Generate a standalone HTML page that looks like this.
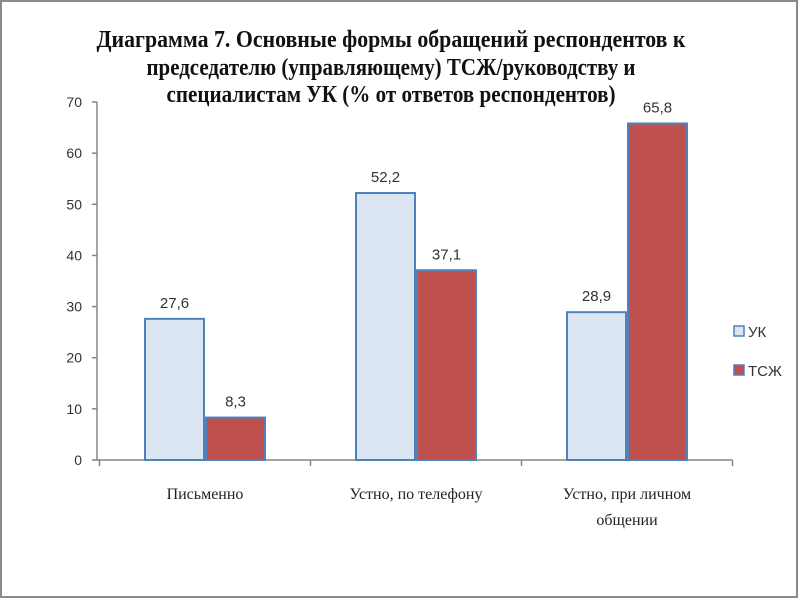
<!DOCTYPE html>
<html><head><meta charset="utf-8"><style>
body{margin:0;background:#fff}
svg{display:block}
</style></head><body>
<svg width="800" height="600" viewBox="0 0 800 600" xmlns="http://www.w3.org/2000/svg">
<rect x="1" y="1" width="796" height="596" fill="#fff" stroke="#8a8a8a" stroke-width="2"/>
<g font-family="Liberation Serif, serif" font-weight="bold" font-size="24" text-anchor="middle" fill="#111">
<text x="391" y="47" textLength="589" lengthAdjust="spacingAndGlyphs">Диаграмма 7. Основные формы обращений респондентов к</text>
<text x="391" y="75" textLength="489" lengthAdjust="spacingAndGlyphs">председателю (управляющему) ТСЖ/руководству и</text>
<text x="391" y="102" textLength="449" lengthAdjust="spacingAndGlyphs">специалистам УК (% от ответов респондентов)</text>
</g>
<g id="plot"></g>
<g font-family="Liberation Sans, sans-serif" font-size="15" fill="#333">
<rect x="734" y="326" width="10" height="10" fill="#dce6f2" stroke="#4f81bd" stroke-width="1.5"/>
<text x="748" y="337">УК</text>
<rect x="734" y="365" width="10" height="10" fill="#c0504d" stroke="#4f81bd" stroke-width="1.5"/>
<text x="748" y="376">ТСЖ</text>
</g>
</svg>
<script>
const categories=[["Письменно"],["Устно, по телефону"],["Устно, при личном","общении"]];
const ukValues=[27.6,52.2,28.9];
const tszhValues=[8.3,37.1,65.8];
const yTicks=[0,10,20,30,40,50,60,70];
const NS="http://www.w3.org/2000/svg";
const plot=document.getElementById('plot');
const x0=99.5,x1=732.5,yBase=460,yTop=102,yMax=70;
const yScale=v=>yBase-(v/yMax)*(yBase-yTop);
const catW=(x1-x0)/categories.length;
const barW=61;
function mk(tag,attrs,txt){const e=document.createElementNS(NS,tag);for(const k in attrs)e.setAttribute(k,attrs[k]);if(txt!==undefined)e.textContent=txt;plot.appendChild(e);return e;}
let ax=mk('line',{x1:97,y1:yTop,x2:97,y2:yBase,stroke:'#868686','stroke-width':1.5});


yTicks.forEach(t=>{
 const y=yScale(t);
 let l=mk('line',{x1:92,y1:y,x2:97,y2:y,stroke:'#868686','stroke-width':1.5});
 
 
 let tx=mk('text',{x:82,y:y+5,'text-anchor':'end','font-family':'Liberation Sans, sans-serif','font-size':14,fill:'#333'},String(t));
 
 
});
let xa=mk('line',{x1:97,y1:yBase,x2:x1,y2:yBase,stroke:'#868686','stroke-width':1.5});


for(let i=0;i<=categories.length;i++){
 const x=x0+i*catW;
 let l=mk('line',{x1:x,y1:yBase,x2:x,y2:yBase+6,stroke:'#868686','stroke-width':1.5});
 
 
}
function fmt(v){return v.toFixed(1).replace('.',',');}
categories.forEach((c,i)=>{
 const cx=x0+(i+0.5)*catW;
 [[ukValues[i],'#dce6f2','bar-uk',cx-barW],[tszhValues[i],'#c0504d','bar-tszh',cx]].forEach(([v,col,nm,bx])=>{
  const y=yScale(v);
  let r=mk('rect',{x:bx+1,y:y,width:barW-2,height:yBase-y,fill:col,stroke:'#4f81bd','stroke-width':2});
  
  
  let t=mk('text',{x:bx+barW/2,y:y-11,'text-anchor':'middle','font-family':'Liberation Sans, sans-serif','font-size':15,fill:'#333'},fmt(v));
  
  
 });
 c.forEach((line,j)=>{
  let t=mk('text',{x:cx,y:499+j*26,'text-anchor':'middle','font-family':'Liberation Serif, serif','font-size':16,fill:'#222'},line);
  
  
 });
});
</script>
</body></html>
